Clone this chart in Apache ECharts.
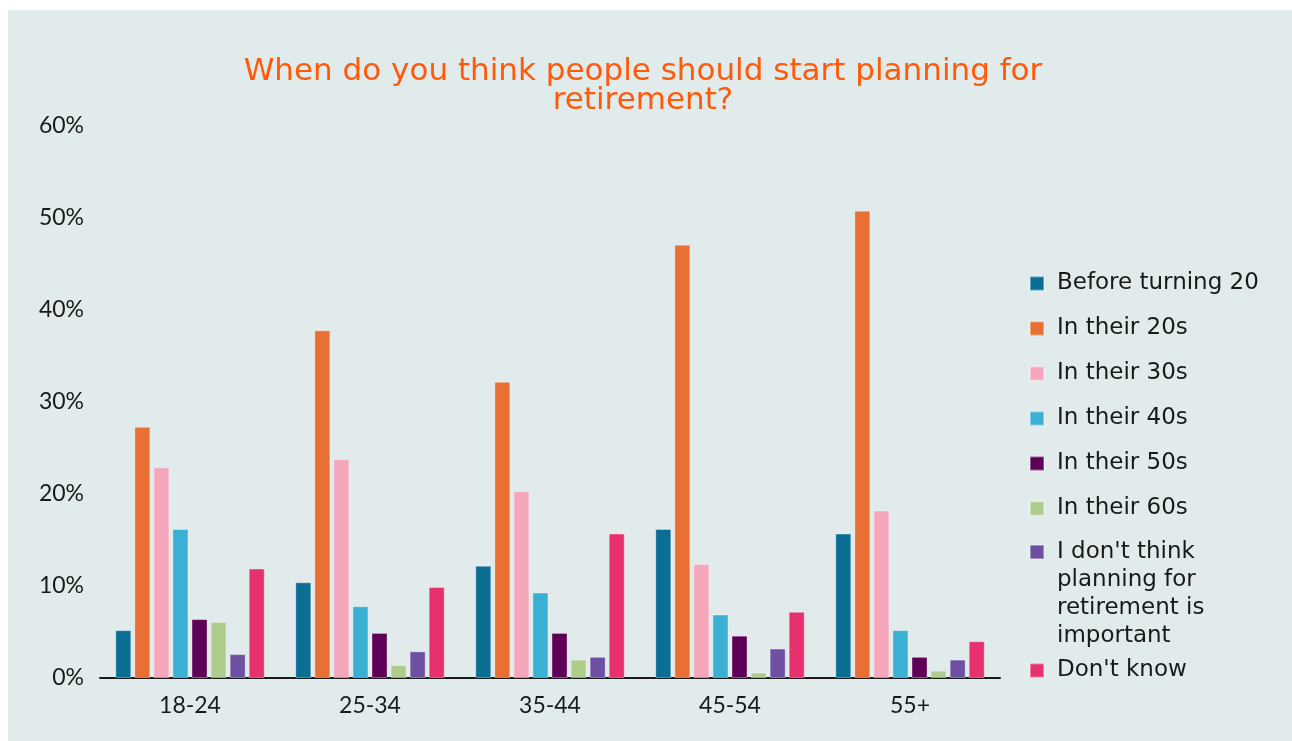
<!DOCTYPE html>
<html>
<head>
<meta charset="utf-8">
<script src="https://cdn.jsdelivr.net/npm/echarts@6/dist/echarts.min.js"></script>
<style>
  html, body { margin: 0; padding: 0; background: #ffffff; }
  #chart { position: absolute; left: 8px; top: 10px; width: 1284px; height: 731px; background: #e1ebeb; }
</style>
</head>
<body>
<div id="chart"></div>
<script>
// Age groups of respondents
const ageGroups = ['18-24', '25-34', '35-44', '45-54', '55+'];

// Share of respondents (%) choosing each answer, per age group
const beforeTwenty   = [5.2, 10.4, 12.2, 16.2, 15.7];
const inTheir20s     = [27.3, 37.8, 32.2, 47.1, 50.8];
const inTheir30s     = [22.9, 23.8, 20.3, 12.4, 18.2];
const inTheir40s     = [16.2, 7.8, 9.3, 6.9, 5.2];
const inTheir50s     = [6.4, 4.9, 4.9, 4.6, 2.3];
const inTheir60s     = [6.1, 1.4, 2.0, 0.6, 0.8];
const notImportant   = [2.6, 2.9, 2.3, 3.2, 2.0];
const dontKnow       = [11.9, 9.9, 15.7, 7.2, 4.0];

const answerNames = [
  'Before turning 20',
  'In their 20s',
  'In their 30s',
  'In their 40s',
  'In their 50s',
  'In their 60s',
  "I don't think planning for retirement is important",
  "Don't know"
];
const answerValues = [beforeTwenty, inTheir20s, inTheir30s, inTheir40s, inTheir50s, inTheir60s, notImportant, dontKnow];
const answerColors = ['#0a6e95', '#e97035', '#f4a7bb', '#3ab1d4', '#5e0055', '#aecd8c', '#6e50a2', '#e6316d'];

const AXIS_FONT = 'Lato';
const LEGEND_FONT = 'DejaVu Sans';
const TITLE_FONT = 'DejaVu Sans';
const TEXT = '#1a1a1a';

const series = answerNames.map((name, i) => ({
  name: name,
  type: 'bar',
  data: answerValues[i],
  barGap: '19%',
  barCategoryGap: '17%',
  itemStyle: {
    color: answerColors[i],
    borderColor: 'rgba(255,255,255,0.35)',
    borderWidth: 1
  }
}));

const legendText = { fontFamily: LEGEND_FONT, fontSize: 23, lineHeight: 23, color: TEXT, padding: [0, 0, 0, 8] };

const chart = echarts.init(document.getElementById('chart'));
chart.setOption({
  animation: false,
  color: answerColors,
  title: {
    text: 'When do you think people should start planning for\nretirement?',
    left: 630,
    textAlign: 'center',
    top: 42,
    textStyle: { fontFamily: TITLE_FONT, fontSize: 31, lineHeight: 29, fontWeight: 'normal', color: '#ff5a0a' }
  },
  grid: { left: 92, width: 900, top: 116, height: 552, containLabel: false },
  legend: [
    {
      orient: 'vertical',
      left: 1016,
      top: 257,
      itemWidth: 14,
      itemHeight: 14,
      itemGap: 22,
      icon: 'rect',
      selectedMode: false,
      data: answerNames.slice(0, 6),
      textStyle: legendText
    },
    {
      // long answer wraps over four lines; leading blank lines keep the
      // first line level with the swatch
      orient: 'vertical',
      left: 1016,
      top: 439,
      itemWidth: 14,
      itemHeight: 14,
      icon: 'rect',
      selectedMode: false,
      data: [answerNames[6]],
      formatter: () => "\n\n\nI don't think\nplanning for\nretirement is\nimportant",
      textStyle: Object.assign({}, legendText, { lineHeight: 28 })
    },
    {
      orient: 'vertical',
      left: 1016,
      top: 644,
      itemWidth: 14,
      itemHeight: 14,
      icon: 'rect',
      selectedMode: false,
      data: [answerNames[7]],
      textStyle: legendText
    }
  ],
  xAxis: {
    type: 'category',
    data: ageGroups,
    axisLine: { show: true, lineStyle: { color: '#1a1a1a', width: 2 } },
    axisTick: { show: false },
    axisLabel: { fontFamily: AXIS_FONT, fontSize: 23, color: TEXT, margin: 16 }
  },
  yAxis: {
    type: 'value',
    min: 0,
    max: 60,
    interval: 10,
    axisLine: { show: false },
    axisTick: { show: false },
    splitLine: { show: false },
    axisLabel: { fontFamily: AXIS_FONT, fontSize: 23, color: TEXT, margin: 16, formatter: '{value}%' }
  },
  series: series
});
</script>
</body>
</html>
